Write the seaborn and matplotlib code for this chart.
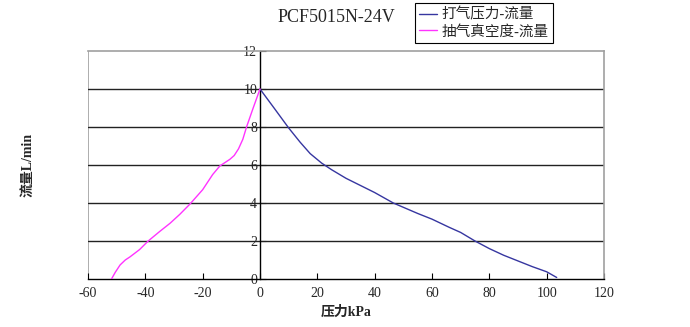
import matplotlib
matplotlib.use("Agg")
import matplotlib.pyplot as plt
import seaborn as sns
import pandas as pd

# Pressure side (blow): pressure kPa vs flow L/min
press_kpa = [0, 5, 10, 14, 17.5, 21.5, 25, 30, 40, 46.5, 55, 60, 66, 70, 75, 80, 85, 90, 95, 100, 103.5]
press_flow = [10, 8.98, 7.95, 7.2, 6.6, 6.1, 5.75, 5.3, 4.55, 4.0, 3.45, 3.15, 2.72, 2.45, 2.0, 1.6, 1.25, 0.95, 0.65, 0.38, 0.08]

# Vacuum side (suction): vacuum kPa vs flow L/min
vac_kpa = [-51.8, -50.5, -48.8, -47, -45.3, -42, -39, -35, -31.4, -28, -24.4, -20, -16.5, -14, -12, -10.5, -9, -7.5, -6, -4.65, -2.5, 0]
vac_flow = [0, 0.35, 0.74, 1.0, 1.17, 1.55, 2.0, 2.5, 2.93, 3.4, 3.95, 4.7, 5.5, 5.95, 6.15, 6.3, 6.5, 6.85, 7.35, 8.02, 8.95, 10]

series_names = ["打气压力-流量", "抽气真空度-流量"]
series_colors = ["#3636a0", "#ff33ff"]

title = "PCF5015N-24V"
xlabel = "压力kPa"
ylabel = "流量L/min"
xticks = [-60, -40, -20, 0, 20, 40, 60, 80, 100, 120]
yticks = [0, 2, 4, 6, 8, 10, 12]

df = pd.concat([
    pd.DataFrame({"kPa": press_kpa, "flow": press_flow, "curve": series_names[0]}),
    pd.DataFrame({"kPa": vac_kpa, "flow": vac_flow, "curve": series_names[1]}),
], ignore_index=True)

sns.set_theme(style="white")
plt.rcParams["font.family"] = ["Liberation Serif", "Noto Sans CJK SC"]
plt.rcParams["axes.unicode_minus"] = False

fig = plt.figure(figsize=(6.9, 3.27), dpi=100)
ax = fig.add_axes([88 / 690, 1 - 279 / 327, (604 - 88) / 690, (279 - 51) / 327])

# horizontal gridlines
for y in yticks[1:-1]:
    ax.axhline(y, color="#222222", lw=1.0, zorder=1)

sns.lineplot(data=df, x="kPa", y="flow", hue="curve", hue_order=series_names,
             palette=series_colors, sort=False, estimator=None, lw=1.0,
             ax=ax, legend=False, zorder=3)

ax.set_xlim(-60, 120)
ax.set_ylim(0, 12)
ax.set_xticks(xticks)
ax.set_yticks(yticks)
ax.set_xticklabels([f"-{abs(t)}" if t < 0 else str(t) for t in xticks])

# frame: value axis crosses at x = 0, plot-area border in grey
ax.spines["left"].set_position(("data", 0))
ax.spines["left"].set_color("black")
ax.spines["left"].set_linewidth(1.0)
ax.spines["bottom"].set_color("black")
ax.spines["bottom"].set_linewidth(1.0)
for s in ["top", "right"]:
    ax.spines[s].set_color("#a0a0a0")
    ax.spines[s].set_linewidth(1.2)
    ax.spines[s].set_visible(True)
ax.axvline(-60, color="#a0a0a0", lw=1.2, zorder=0)

ax.tick_params(axis="x", direction="in", length=4, width=0.8, color="black",
               labelsize=10, pad=6, bottom=True)
ax.tick_params(axis="y", direction="in", length=4, width=0.8, color="black",
               labelsize=10, pad=2, left=True)

ax.set_xlabel(xlabel, fontsize=10, fontweight="bold", labelpad=4)
ax.set_ylabel("")
fig.text(29 / 690, 1 - 165 / 327, ylabel, rotation=90, ha="center", va="center",
         fontsize=10, fontweight="bold")

fig.text(336 / 690, 1 - 17 / 327, title, ha="center", va="center", fontsize=13)

handles = [plt.Line2D([], [], color=c, lw=1.0) for c in series_colors]
leg = fig.legend(handles, series_names, loc="upper left",
                 bbox_to_anchor=(415 / 690, 1 - 3 / 327), frameon=True,
                 fancybox=False, edgecolor="black", framealpha=1,
                 fontsize=10.5, handlelength=1.2, handletextpad=0.3,
                 borderpad=0.3, labelspacing=0.2, borderaxespad=0)
leg.get_frame().set_linewidth(0.8)

fig.savefig("out.png", dpi=100, facecolor="white")
